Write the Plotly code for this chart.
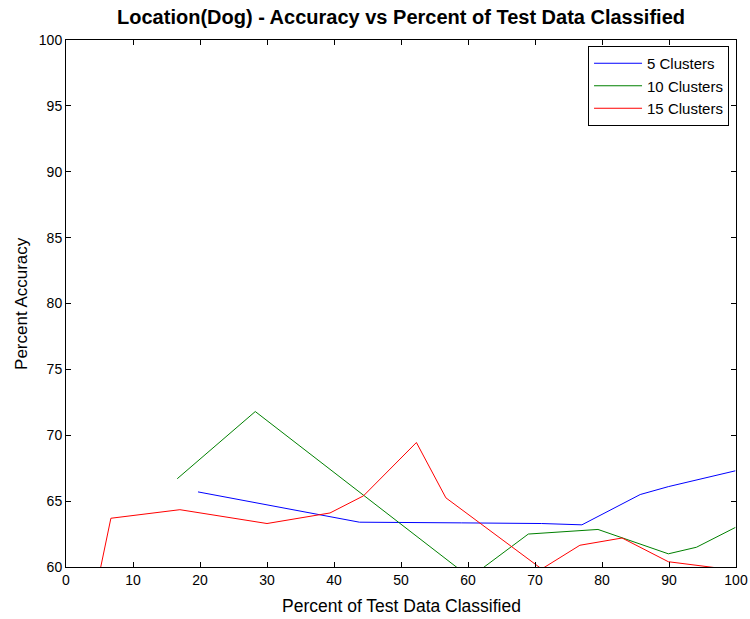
import plotly.graph_objects as go

# Data
x5 = [19.7, 43.8, 59.0, 71.0, 77.0, 85.7, 89.9, 99.9]
y5 = [65.7, 63.4, 63.35, 63.3, 63.2, 65.5, 66.1, 67.3]

x10 = [16.6, 28.25, 60.3, 69.0, 79.4, 89.9, 94.1, 99.9]
y10 = [66.7, 71.8, 59.2, 62.5, 62.85, 61.0, 61.5, 63.0]

x15 = [4.9, 6.7, 17.0, 30.0, 39.4, 44.4, 52.3, 56.7, 71.0, 76.7, 83.0, 89.9, 96.9]
y15 = [59.3, 63.7, 64.35, 63.3, 64.1, 65.4, 69.45, 65.25, 59.85, 61.65, 62.2, 60.4, 59.95]

names = ["5 Clusters", "10 Clusters", "15 Clusters"]
colors = ["rgb(0,0,255)", "rgb(0,128,0)", "rgb(255,0,0)"]

x_ticks = list(range(0, 101, 10))
y_ticks = list(range(60, 101, 5))

FONT = "Liberation Sans, Arial, Helvetica, sans-serif"

fig = go.Figure()
for xs, ys, n, c in zip([x5, x10, x15], [y5, y10, y15], names, colors):
    fig.add_trace(go.Scatter(x=xs, y=ys, mode="lines", name=n,
                             line=dict(color=c, width=1)))

axis_common = dict(showline=True, linecolor="black", linewidth=1, mirror="ticks",
                   ticks="inside", ticklen=5, tickcolor="black", showgrid=False,
                   zeroline=False, automargin=False,
                   tickfont=dict(family=FONT, size=14, color="black"))

fig.update_layout(
    width=750, height=619,
    margin=dict(l=66, r=14, t=40, b=52),
    paper_bgcolor="white", plot_bgcolor="white",
    font=dict(family=FONT, color="black"),
    title=dict(text="<b>Location(Dog) - Accuracy vs Percent of Test Data Classified</b>",
               x=0.5347, xanchor="center", y=0.973, yanchor="middle",
               font=dict(family=FONT, size=20, color="black")),
    xaxis=dict(range=[0, 100], tickvals=x_ticks, **axis_common),
    yaxis=dict(range=[60, 100], tickvals=y_ticks, **axis_common),
    legend=dict(x=0.9896, y=0.9886, xanchor="right", yanchor="top",
                bgcolor="white", bordercolor="black", borderwidth=1,
                font=dict(family=FONT, size=15, color="black"),
                itemwidth=48, tracegroupgap=0),
    showlegend=True,
    annotations=[
        dict(text="Percent of Test Data Classified", xref="paper", yref="paper",
             x=0.5, y=-0.074, xanchor="center", yanchor="middle", showarrow=False,
             font=dict(family=FONT, size=17.5, color="black")),
        dict(text="Percent Accuracy", xref="paper", yref="paper",
             x=-0.0657, y=0.501, xanchor="center", yanchor="middle", showarrow=False,
             textangle=-90, font=dict(family=FONT, size=17, color="black")),
    ],
)

fig.write_html("out.html")
